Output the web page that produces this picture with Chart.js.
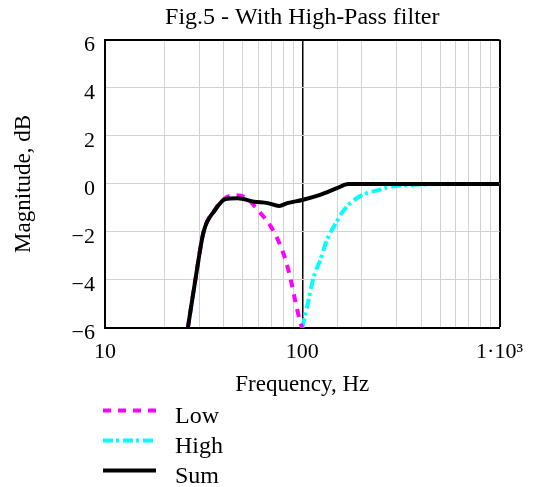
<!DOCTYPE html>
<html>
<head>
  <title>Fig.5 - With High-Pass filter</title>
  <script src="https://cdn.jsdelivr.net/npm/chart.js"></script>
  <style>
    body { margin: 0; background: #fff; }
    canvas { display: block; }
  </style>
</head>
<body>
  <canvas id="fig5" width="534" height="487"></canvas>
  <script>
  // values (frequency in Hz, magnitude in dB)
  const lowFreq  = [26.3, 28.7, 31.6, 36.2, 40.6, 46, 52, 57, 62, 69.6, 76.4, 82.5, 87.5, 92.6, 98, 100];
  const lowDb    = [-6, -4, -2, -1.05, -0.6, -0.47, -0.58, -0.9, -1.25, -1.8, -2.45, -3.2, -4.0, -4.95, -5.8, -6];

  const highFreq = [100, 105.9, 114.4, 123.4, 133.4, 141.3, 149.6, 158.5, 171.2, 188.4, 211.3, 237, 287, 389, 600, 1000];
  const highDb   = [-6, -5.1, -3.86, -3.17, -2.33, -1.92, -1.57, -1.22, -0.88, -0.6, -0.39, -0.28, -0.11, -0.03, 0, 0];

  const sumFreq  = [26.3, 28.7, 31.6, 36.2, 40.6, 47, 57, 66.8, 76.4, 84, 100, 123, 150, 171, 1000];
  const sumDb    = [-6, -4, -2, -1.08, -0.64, -0.6, -0.74, -0.8, -0.92, -0.8, -0.67, -0.46, -0.18, 0, 0];

  const xTickLabels = { 10: '10', 100: '100', 1000: '1\u00b710\u00b3' };
  const seriesNames = ['Low', 'High', 'Sum'];

  const serif = '"Liberation Serif", "Times New Roman", serif';
  const gridGray = '#d2d2d2';

  function pts(xs, ys) {
    return xs.map((x, i) => ({ x: x, y: ys[i] }));
  }

  // legend drawn by hand: Mathcad puts it as a column under the x title
  const columnLegend = {
    id: 'columnLegend',
    afterDraw(chart) {
      const ctx = chart.ctx;
      const rows = [410.5, 440.5, 470.5];
      chart.data.datasets.forEach((ds, i) => {
        const y = rows[i];
        ctx.save();
        ctx.strokeStyle = ds.borderColor;
        ctx.lineWidth = ds.borderWidth;
        ctx.setLineDash(ds.borderDash || []);
        ctx.beginPath();
        ctx.moveTo(103, y);
        ctx.lineTo(156, y);
        ctx.stroke();
        ctx.setLineDash([]);
        ctx.fillStyle = '#000';
        ctx.font = '24px ' + serif;
        ctx.textBaseline = 'alphabetic';
        ctx.fillText(ds.label, 175, y + 12);
        ctx.restore();
      });
    }
  };

  const ctx = document.getElementById('fig5').getContext('2d');
  new Chart(ctx, {
    type: 'line',
    data: {
      datasets: [
        { label: seriesNames[0], data: pts(lowFreq, lowDb), borderColor: '#ff00ff',
          borderWidth: 4, borderDash: [8, 7], order: 2 },
        { label: seriesNames[1], data: pts(highFreq, highDb), borderColor: '#00ffff',
          borderWidth: 4, borderDash: [10, 3, 3, 4], order: 3 },
        { label: seriesNames[2], data: pts(sumFreq, sumDb), borderColor: '#000000',
          borderWidth: 4, order: 1 }
      ]
    },
    options: {
      responsive: false,
      animation: false,
      elements: {
        point: { radius: 0 },
        line: { cubicInterpolationMode: 'monotone', fill: false }
      },
      layout: { padding: { left: 0, right: 31, top: 0, bottom: 84 } },
      plugins: {
        legend: { display: false },
        tooltip: { enabled: false },
        title: {
          display: true,
          text: 'Fig.5 - With High-Pass filter',
          color: '#000',
          fullSize: false,
          font: { family: serif, size: 24, weight: 'normal' },
          padding: { top: 3, bottom: 8 }
        }
      },
      scales: {
        x: {
          type: 'logarithmic',
          min: 10,
          max: 1000,
          afterFit: s => { s.height = 75; },
          border: { color: '#000', width: 2 },
          grid: {
            drawTicks: false,
            color: c => (c.tick && (c.tick.value === 100 || c.tick.value === 1000)) ? '#000' : gridGray,
            lineWidth: c => (c.tick && c.tick.value === 1000) ? 2 : (c.tick && c.tick.value === 100 ? 1.5 : 1)
          },
          ticks: {
            autoSkip: false,
            maxRotation: 0,
            padding: 11,
            color: '#000',
            font: { family: serif, size: 22 },
            callback: v => xTickLabels[v] || ''
          },
          title: {
            display: true,
            text: 'Frequency, Hz',
            color: '#000',
            font: { family: serif, size: 23 },
            padding: { top: 0, bottom: 4 }
          }
        },
        y: {
          min: -6,
          max: 6,
          afterFit: s => { s.width = 105; },
          border: { color: '#000', width: 2 },
          grid: {
            drawTicks: false,
            color: c => (c.tick && c.tick.value === 6) ? '#000' : gridGray,
            lineWidth: c => (c.tick && c.tick.value === 6) ? 2 : 1
          },
          ticks: {
            stepSize: 2,
            padding: 10,
            labelOffset: 5,
            color: '#000',
            font: { family: serif, size: 22 },
            callback: v => v < 0 ? '\u2212' + Math.abs(v) : String(v)
          },
          title: {
            display: true,
            text: 'Magnitude, dB',
            color: '#000',
            font: { family: serif, size: 23 },
            padding: { top: 10, bottom: 0 }
          }
        }
      }
    },
    plugins: [columnLegend]
  });
  </script>
</body>
</html>
